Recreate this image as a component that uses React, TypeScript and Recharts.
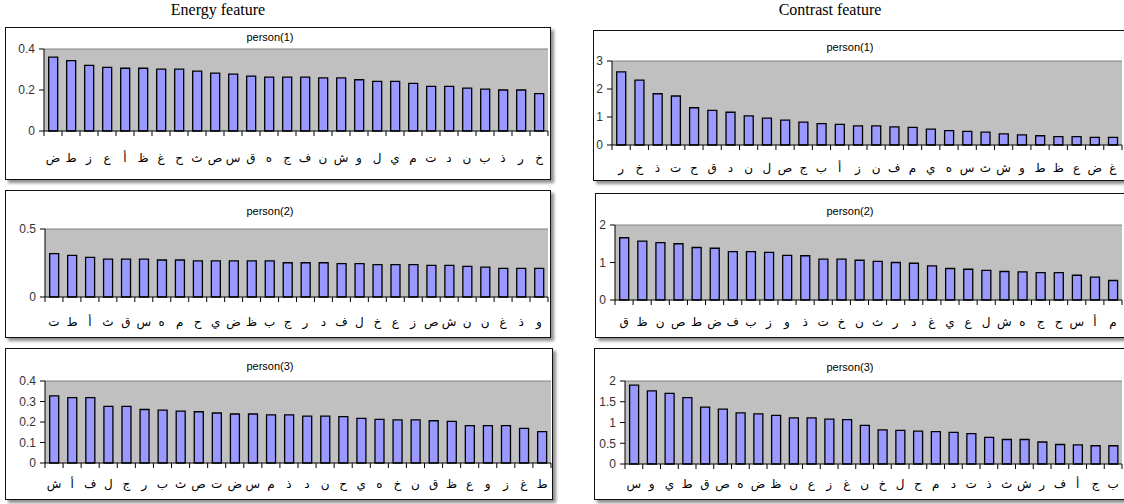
import React from 'react';
import { BarChart, Bar, XAxis, YAxis, CartesianGrid, ReferenceLine } from 'recharts';

// ---------- data ----------
const energyP1Labels = ['ض','ط','ز','ع','أ','ظ','غ','ح','ث','ص','س','ق','ه','ج','ف','ن','ش','و','ل','ي','م','ت','د','ن','ب','ذ','ر','خ'];
const energyP1Values = [0.36,0.343,0.32,0.31,0.306,0.306,0.302,0.302,0.292,0.282,0.277,0.268,0.263,0.263,0.263,0.259,0.259,0.25,0.242,0.242,0.232,0.218,0.218,0.209,0.204,0.2,0.2,0.182];
const energyP1Ticks = [0, 0.2, 0.4];

const energyP2Labels = ['ت','ط','أ','ث','ق','س','ه','م','ح','ي','ض','ظ','ب','ج','ر','د','ف','ل','خ','ع','ز','ص','ش','ن','ن','غ','ذ','و'];
const energyP2Values = [0.319,0.306,0.292,0.279,0.279,0.279,0.272,0.272,0.265,0.265,0.265,0.265,0.265,0.252,0.252,0.252,0.245,0.245,0.238,0.238,0.238,0.233,0.233,0.225,0.22,0.211,0.211,0.211];
const energyP2Ticks = [0, 0.5];

const energyP3Labels = ['ش','أ','ف','ل','ج','ر','ب','ث','ص','ت','ض','س','م','ذ','د','ن','ح','ي','ه','خ','ن','ق','ظ','ع','و','ز','غ','ط'];
const energyP3Values = [0.327,0.319,0.319,0.276,0.276,0.261,0.258,0.253,0.25,0.244,0.239,0.239,0.235,0.235,0.229,0.229,0.226,0.218,0.213,0.21,0.21,0.206,0.203,0.182,0.182,0.182,0.169,0.153];
const energyP3Ticks = [0, 0.1, 0.2, 0.3, 0.4];

const contrastP1Labels = ['ر','خ','ذ','ت','ح','ق','د','ن','ل','ص','ج','ب','أ','ز','ن','ف','م','ي','ه','س','ث','ش','و','ط','ظ','ع','ض','غ'];
const contrastP1Values = [2.61,2.32,1.83,1.75,1.33,1.24,1.17,1.04,0.96,0.89,0.82,0.76,0.74,0.68,0.68,0.65,0.63,0.57,0.51,0.49,0.46,0.4,0.36,0.33,0.3,0.3,0.27,0.27];
const contrastP1Ticks = [0, 1, 2, 3];

const contrastP2Labels = ['ق','ظ','ن','ص','ط','ض','ف','ب','ز','و','ذ','ت','خ','ن','ث','ر','د','غ','ي','ع','ل','ش','ه','ج','ح','س','أ','م'];
const contrastP2Values = [1.66,1.57,1.53,1.5,1.4,1.38,1.29,1.29,1.27,1.19,1.18,1.09,1.09,1.06,1.03,1.0,0.98,0.91,0.84,0.82,0.79,0.76,0.75,0.73,0.73,0.66,0.61,0.52];
const contrastP2Ticks = [0, 1, 2];

const contrastP3Labels = ['س','و','ي','ط','ق','ص','ه','ض','ظ','ن','ع','ز','غ','ن','خ','ل','ح','م','د','ت','ذ','ث','ش','ر','ف','أ','ج','ب'];
const contrastP3Values = [1.9,1.76,1.7,1.6,1.37,1.32,1.23,1.21,1.17,1.11,1.11,1.08,1.07,0.93,0.82,0.81,0.79,0.78,0.76,0.73,0.64,0.59,0.59,0.53,0.47,0.46,0.44,0.44];
const contrastP3Ticks = [0, 0.5, 1, 1.5, 2];

const FONT = "Arial, 'Liberation Sans', 'DejaVu Sans', sans-serif";
const SERIF = "'Times New Roman', 'Liberation Serif', serif";

type Box = { x: number; y: number; w: number; h: number };
type Plot = { l: number; t: number; r: number; b: number };

type PanelProps = {
  box: Box;
  plot: Plot;
  titleX: number;
  titleY: number;
  labelY: number;
  title: string;
  labels: string[];
  values: number[];
  ticks: number[];
};

function Panel({ box, plot, titleX, titleY, labelY, title, labels, values, ticks }: PanelProps) {
  const data = labels.map((c, i) => ({ c: c, key: i, v: values[i] }));
  const innerW = box.w - 2;
  const innerH = box.h - 2;
  const yAxisW = plot.l - box.x - 1;
  const marginTop = plot.t - box.y - 1;
  const marginRight = box.x + box.w - 1 - plot.r;
  const xAxisH = box.y + box.h - 1 - plot.b;
  const step = (plot.r - plot.l) / labels.length;
  const labelDy = labelY - plot.b;
  const yMax = ticks[ticks.length - 1];

  const Tick = (props: any) => {
    const { x, y, index } = props;
    const lab = labels[index];
    return (
      <g>
        <line x1={x - step / 2} x2={x - step / 2} y1={y} y2={y + 5} stroke="#000" strokeWidth={1} />
        {index === labels.length - 1 ? (
          <line x1={x + step / 2} x2={x + step / 2} y1={y} y2={y + 5} stroke="#000" strokeWidth={1} />
        ) : null}
        <text x={x} y={y + labelDy} textAnchor="middle" dominantBaseline="central" fontSize={12} fontFamily={FONT} fill="#000">
          {lab}
        </text>
      </g>
    );
  };

  return (
    <div
      style={{
        position: 'absolute',
        left: box.x,
        top: box.y,
        width: box.w,
        height: box.h,
        boxSizing: 'border-box',
        border: '1px solid #111',
        background: '#fff',
        boxShadow: '3px 3px 3px rgba(0,0,0,0.45)',
      }}
    >
      <div
        style={{
          position: 'absolute',
          left: titleX - box.x - 1 - 60,
          width: 120,
          top: titleY - box.y - 1 - 7,
          height: 14,
          lineHeight: '14px',
          textAlign: 'center',
          fontFamily: FONT,
          fontSize: 11,
          color: '#000',
        }}
      >
        {title}
      </div>
      <div style={{ position: 'absolute', left: 0, top: 0 }}>
        <BarChart
          width={innerW}
          height={innerH}
          data={data}
          margin={{ top: marginTop, right: marginRight, left: 0, bottom: 0 }}
          barCategoryGap="26%"
        >
          <CartesianGrid horizontal={false} vertical={false} fill="#C0C0C0" fillOpacity={1} stroke="none" />
          <XAxis
            dataKey="key"
            type="category"
            interval={0}
            height={xAxisH}
            tickLine={false}
            tickSize={0}
            tickMargin={0}
            axisLine={{ stroke: '#000', strokeWidth: 1 }}
            tick={<Tick />}
          />
          <YAxis
            yAxisId="left"
            width={yAxisW}
            domain={[0, yMax]}
            ticks={ticks}
            interval={0}
            tickSize={5}
            tickMargin={4}
            axisLine={{ stroke: '#000', strokeWidth: 1 }}
            tickLine={{ stroke: '#000', strokeWidth: 1 }}
            tick={{ fontSize: 12, fontFamily: FONT, fill: '#333' }}
          />
          <YAxis
            yAxisId="right"
            orientation="right"
            width={0}
            domain={[0, yMax]}
            ticks={ticks}
            tick={false}
            tickLine={false}
            axisLine={{ stroke: '#808080', strokeWidth: 1 }}
          />
          <ReferenceLine yAxisId="left" y={yMax} stroke="#808080" strokeWidth={1} />
          <Bar yAxisId="left" dataKey="v" fill="#9999FF" stroke="#000" strokeWidth={1.3} isAnimationActive={false} />
        </BarChart>
      </div>
    </div>
  );
}

export default function App() {
  return (
    <div
      style={{
        position: 'absolute',
        left: 0,
        top: 0,
        width: 1124,
        height: 504,
        overflow: 'hidden',
        background: '#fff',
      }}
    >
      <div style={{ position: 'absolute', left: 118, width: 200, top: 0, textAlign: 'center', fontFamily: SERIF, fontSize: 16, lineHeight: '20px' }}>
        Energy feature
      </div>
      <div style={{ position: 'absolute', left: 730, width: 200, top: 0, textAlign: 'center', fontFamily: SERIF, fontSize: 16, lineHeight: '20px' }}>
        Contrast feature
      </div>

      <Panel box={{ x: 5, y: 27, w: 546, h: 153 }} plot={{ l: 44, t: 49, r: 548, b: 131 }} titleX={270} titleY={37} labelY={158} title="person(1)" labels={energyP1Labels} values={energyP1Values} ticks={energyP1Ticks} />
      <Panel box={{ x: 5, y: 190, w: 546, h: 148 }} plot={{ l: 45, t: 229, r: 548, b: 297 }} titleX={270} titleY={211} labelY={322} title="person(2)" labels={energyP2Labels} values={energyP2Values} ticks={energyP2Ticks} />
      <Panel box={{ x: 5, y: 348, w: 548, h: 152 }} plot={{ l: 45, t: 381, r: 551, b: 463 }} titleX={270} titleY={366} labelY={484} title="person(3)" labels={energyP3Labels} values={energyP3Values} ticks={energyP3Ticks} />

      <Panel box={{ x: 593, y: 30, w: 545, h: 151 }} plot={{ l: 612, t: 61, r: 1122, b: 145 }} titleX={850} titleY={47} labelY={168} title="person(1)" labels={contrastP1Labels} values={contrastP1Values} ticks={contrastP1Ticks} />
      <Panel box={{ x: 595, y: 193, w: 543, h: 145 }} plot={{ l: 615, t: 225, r: 1122, b: 300 }} titleX={850} titleY={211} labelY={322} title="person(2)" labels={contrastP2Labels} values={contrastP2Values} ticks={contrastP2Ticks} />
      <Panel box={{ x: 594, y: 348, w: 544, h: 152 }} plot={{ l: 625, t: 381, r: 1122, b: 464 }} titleX={850} titleY={367} labelY={484} title="person(3)" labels={contrastP3Labels} values={contrastP3Values} ticks={contrastP3Ticks} />
    </div>
  );
}
